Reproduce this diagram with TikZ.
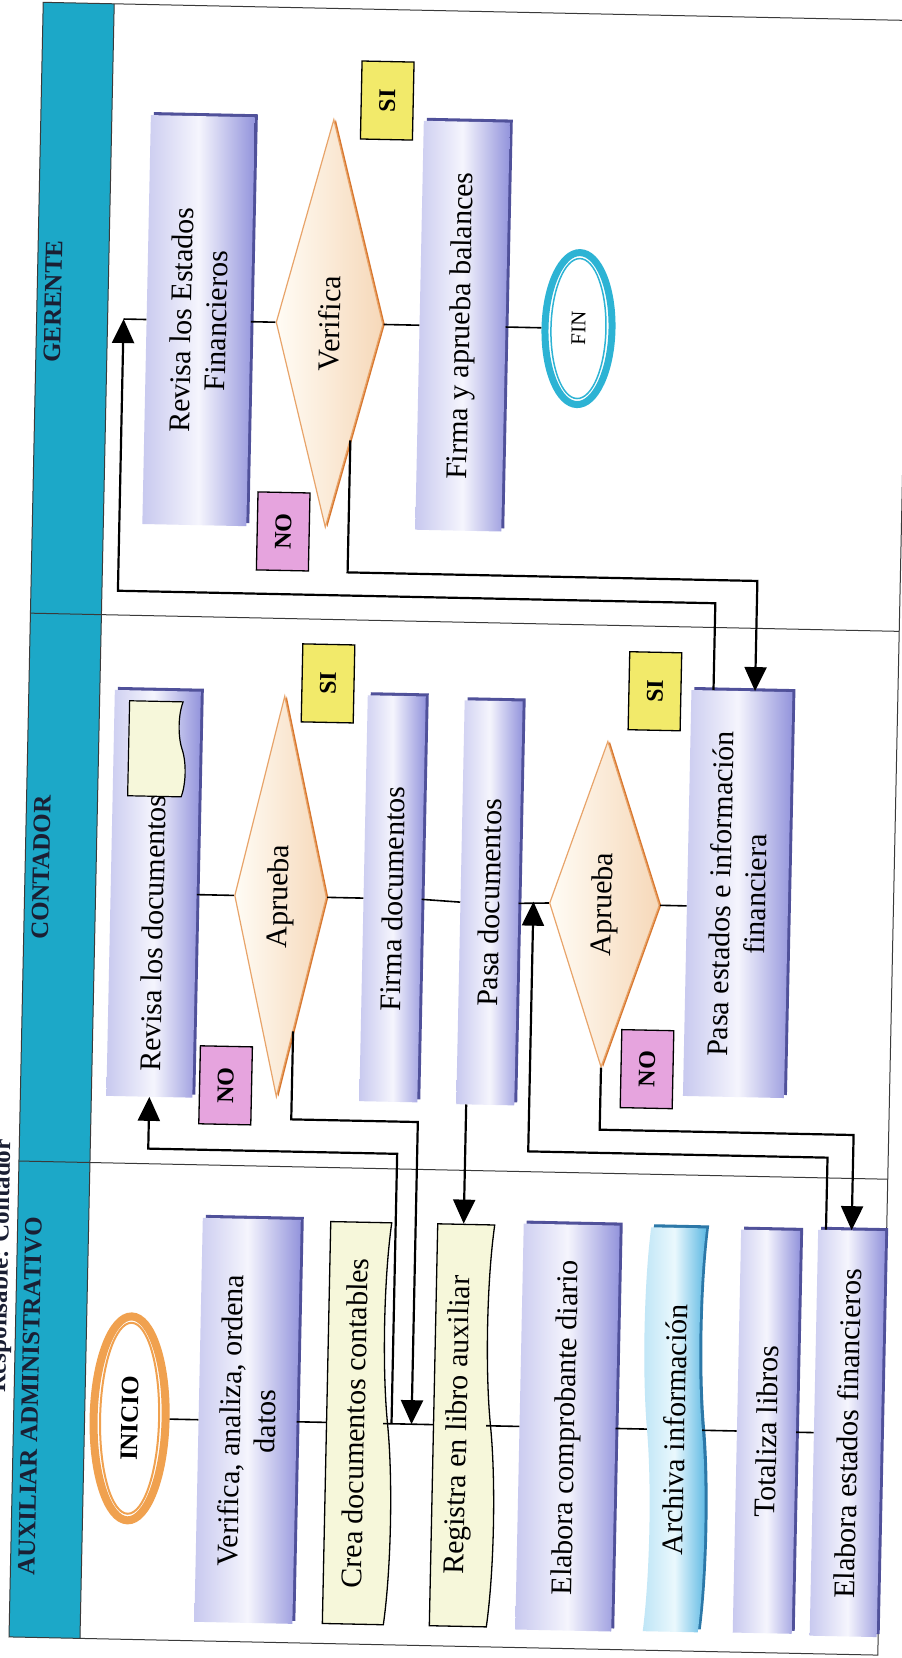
\documentclass[tikz,border=0pt]{standalone}
\usepackage{fontspec}
\setmainfont{Liberation Serif}
\usetikzlibrary{shapes.geometric,shapes.symbols,arrows.meta,calc,shadows}

\definecolor{bandcyan}{HTML}{1CA8C8}
\definecolor{lanegray}{HTML}{3A3A3A}
\definecolor{procA}{HTML}{C8C9EF}
\definecolor{procB}{HTML}{F5F5FD}
\definecolor{procC}{HTML}{9394DC}
\definecolor{procD}{HTML}{50519A}
\definecolor{docfill}{HTML}{F6F7DA}
\definecolor{tapeA}{HTML}{BEE5F6}
\definecolor{tapeB}{HTML}{EAF8FD}
\definecolor{tapeC}{HTML}{5BB7E3}
\definecolor{tapeD}{HTML}{2C78A8}
\definecolor{diaA}{HTML}{FFFCF5}
\definecolor{diaC}{HTML}{F6D8B9}
\definecolor{diaedge}{HTML}{E8A46A}
\definecolor{diashade}{HTML}{D8772E}
\definecolor{siyellow}{HTML}{F2EA6A}
\definecolor{nopink}{HTML}{E6A4DE}
\definecolor{ringorange}{HTML}{F0A14F}
\definecolor{ringcyan}{HTML}{2DB3D4}
\definecolor{headtext}{HTML}{1A1F33}

\newcommand\boxfont{\fontsize{30}{35}\selectfont}
\newcommand\headfont{\bfseries\fontsize{25}{28}\selectfont}
\newcommand\tagfont{\bfseries\fontsize{24}{26}\selectfont}
\newcommand\finfont{\fontsize{21}{24}\selectfont}

\tikzset{
  procbox/.style={rectangle, rotate=90, inner sep=2pt, align=center, font=\boxfont,
    left color=procA, right color=procC, middle color=procB,
    drop shadow={shadow xshift=3pt, shadow yshift=3pt, fill=procD, opacity=1}},
  docbox/.style={tape, rotate=90, tape bend top=none, tape bend bottom=in and out,
    tape bend height=10pt, draw=black, line width=1.3pt, fill=docfill, font=\boxfont},
  filebox/.style={tape, rotate=90, tape bend height=9pt, font=\boxfont,
    left color=tapeA, right color=tapeC, middle color=tapeB,
    drop shadow={shadow xshift=3pt, shadow yshift=3pt, fill=tapeD, opacity=1}},
  decision/.style={diamond, rotate=90, aspect=4, inner sep=0pt, font=\boxfont,
    draw=diaedge, line width=1.2pt, left color=diaA, right color=diaC,
    drop shadow={shadow xshift=2pt, shadow yshift=0pt, fill=diashade, opacity=1}},
  terminal/.style={ellipse, rotate=90, inner sep=0pt},
  yesbox/.style={rectangle, rotate=90, draw=black, line width=1.3pt, fill=siyellow,
    minimum width=78pt, minimum height=52pt, font=\tagfont},
  nobox/.style={yesbox, fill=nopink},
  lanehead/.style={rotate=90, inner sep=0pt, font=\headfont, text=headtext},
  laneline/.style={line width=1pt, draw=lanegray},
  flow/.style={line width=1.6pt},
  arr/.style={line width=2.2pt, -{Triangle[length=24pt,width=22pt]}},
}

\begin{document}
\begin{tikzpicture}[x=1pt,y=-1pt]
\fill[white] (0,0) rectangle (902,1658);
\useasboundingbox (0,0) rectangle (902,1658);
\begin{scope}[rotate around={-1.2:(451,829)}, transform shape]

% carriles
\fill[bandcyan] (26,11) rectangle (97,1646);
\draw[laneline] (26,11) rectangle (895,1646);
\draw[laneline] (97,11) -- (97,1646);
\draw[laneline] (26,622) -- (895,622);
\draw[laneline] (26,1170) -- (895,1170);

\node[lanehead] (hger) at (42,310) {GERENTE};
\node[lanehead] (hcon) at (42,876) {CONTADOR};
\node[lanehead] (haux) at (42,1405) {AUXILIAR ADMINISTRATIVO};
\node[lanehead, anchor=base] (title) at (17,1275) {Responsable: Contador};

% auxiliar administrativo
\node[terminal, draw=ringorange, line width=8pt, minimum width=204pt, minimum height=72pt,
  font=\headfont] (inicio) at (142,1425) {INICIO};
\node[procbox, minimum width=404pt, minimum height=98pt] (verif) at (260,1425) {Verifica, analiza, ordena\\datos};
\node[docbox, minimum width=402pt, minimum height=66pt] (crea) at (367,1425) {Crea documentos contables};
\node[docbox, minimum width=402pt, minimum height=62pt] (regis) at (472,1425) {Registra en libro auxiliar};
\node[procbox, minimum width=406pt, minimum height=96pt] (elabc) at (580,1425) {Elabora comprobante diario};
\node[filebox, minimum width=404pt, minimum height=64pt] (archiva) at (687,1425) {Archiva información};
\node[procbox, minimum width=403pt, minimum height=59pt] (total) at (779,1425) {Totaliza libros};
\node[procbox, minimum width=406pt, minimum height=67pt] (eef) at (860,1425) {Elabora estados financieros};

% contador
\node[procbox, minimum width=406pt, minimum height=86pt] (revdoc) at (155,900) {\makebox[356pt][l]{Revisa los documentos}};
\node[docbox, minimum width=95pt, minimum height=57pt, line width=1.2pt, tape bend height=7pt] (icon) at (152,755) {};
\node[decision, minimum width=401pt, minimum height=92pt] (d1) at (282,900) {Aprueba};
\node[procbox, minimum width=406pt, minimum height=58pt] (firma) at (394,900) {Firma documentos};
\node[procbox, minimum width=404pt, minimum height=58pt] (pasa) at (491,902) {Pasa documentos};
\node[decision, minimum width=326pt, minimum height=110pt] (d2) at (606,901) {Aprueba};
\node[procbox, minimum width=406pt, minimum height=101pt] (pest) at (739,888) {Pasa estados e información\\financiera};

% gerente
\node[procbox, minimum width=409pt, minimum height=104pt] (revef) at (188,326) {Revisa los Estados\\Financieros};
\node[decision, minimum width=408pt, minimum height=107pt] (d3) at (319,326) {Verifica};
\node[procbox, minimum width=409pt, minimum height=86pt] (firmab) at (452,326) {Firma y aprueba balances};
\node[terminal, draw=ringcyan, line width=7pt, minimum width=152pt, minimum height=67pt,
  font=\finfont] (fin) at (568,326) {FIN};

\draw[ringorange, line width=2pt] (inicio.center) ellipse [x radius=29.5, y radius=95.5];
\draw[ringcyan, line width=1.5pt] (fin.center) ellipse [x radius=27.5, y radius=70];

% etiquetas SI / NO
\node[yesbox] (si1) at (325,686) {SI};
\node[nobox] (no1) at (231,1090) {NO};
\node[yesbox] (si2) at (652,687) {SI};
\node[nobox] (no2) at (652,1065) {NO};
\node[yesbox] (si3) at (372,102) {SI};
\node[nobox] (no3) at (277,535) {NO};

% flujo dentro de cada carril
\draw[flow] (inicio.south) -- (verif.north);
\draw[flow] (verif.south) -- (crea.north);
\draw[flow] (crea.south) -- (regis.north);
\draw[flow] (regis.south) -- (elabc.north);
\draw[flow] (elabc.south) -- (archiva.north);
\draw[flow] (archiva.south) -- (total.north);
\draw[flow] (total.south) -- (eef.north);

\draw[flow] (revdoc.south) -- (d1.north);
\draw[flow] (d1.south) -- (firma.north);
\draw[flow] (firma.south) -- (pasa.north);
\draw[flow] (pasa.south) -- (d2.north);
\draw[flow] (d2.south) -- (d2.south -| pest.north);

\draw[flow] (revef.south) -- (d3.north);
\draw[flow] (d3.south) -- (firmab.north);
\draw[flow] (firmab.south) -- (fin.north);

% conectores entre carriles
\coordinate (j1) at (404,1425);
\coordinate (j2) at (424,1425);
\coordinate (j3) at (535,900);
\coordinate (k1) at (113,326);

\draw[arr] (j1) -- ++(0,-270) -| (revdoc.west);
\draw[arr] ($(d1.south)!0.67!(d1.west)$) -- ++(0,88) -| (j2);
\draw[arr] (regis.east |- pasa.west) -- (regis.east);
\draw[arr] ($(eef.north east)!0.12!(eef.south east)$) -- ++(0,-72) -| (j3);
\draw[arr] (d2.west) -- ++(0,62) -| (eef.east);
\draw[arr] ($(pest.north east)!0.22!(pest.south east)$) -- ++(0,-87) -| (k1);
\draw[flow] (k1) -- (revef.north);
\draw[arr] ($(d3.south)!0.57!(d3.west)$) -- ++(0,132) -| ($(pest.north east)!0.63!(pest.south east)$);

\end{scope}
\end{tikzpicture}
\end{document}
